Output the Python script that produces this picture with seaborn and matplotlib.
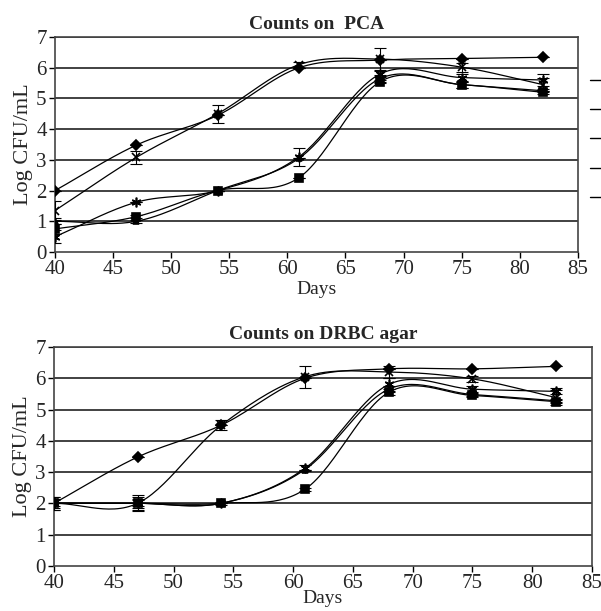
import numpy as np
import pandas as pd
import matplotlib
matplotlib.use("Agg")
import matplotlib.pyplot as plt
from matplotlib.lines import Line2D
import seaborn as sns

days = [40, 47, 54, 61, 68, 75, 82]
series_names = ["A", "B", "C", "D", "E"]
series_markers = ["D", "x", (6, 2, 0), "s", "^"]
series_msize = [5, 6, 7, 6, 5]

pca_A = [2.0, 3.48, 4.45, 6.0, 6.25, 6.3, 6.34]
pca_B = [1.35, 3.08, 4.5, 6.1, 6.28, 6.02, 5.45]
pca_C = [0.5, 1.62, 2.0, 3.1, 5.8, 5.68, 5.6]
pca_D = [0.75, 1.15, 2.0, 2.42, 5.55, 5.45, 5.2]
pca_E = [1.0, 1.0, 2.0, 3.05, 5.65, 5.45, 5.25]

pca_errA = [0.0, 0.0, 0.0, 0.0, 0.0, 0.0, 0.0]
pca_errB = [0.3, 0.2, 0.3, 0.1, 0.35, 0.15, 0.2]
pca_errC = [0.2, 0.0, 0.0, 0.3, 0.1, 0.1, 0.2]
pca_errD = [0.15, 0.05, 0.0, 0.0, 0.05, 0.1, 0.05]
pca_errE = [0.1, 0.05, 0.0, 0.0, 0.1, 0.1, 0.05]

drbc_A = [2.0, 3.48, 4.5, 6.0, 6.3, 6.3, 6.38]
drbc_B = [2.0, 2.0, 4.5, 6.05, 6.2, 5.98, 5.38]
drbc_C = [2.0, 2.0, 2.0, 3.12, 5.8, 5.65, 5.58]
drbc_D = [2.0, 2.0, 2.0, 2.45, 5.55, 5.45, 5.25]
drbc_E = [2.0, 2.0, 2.0, 3.08, 5.65, 5.48, 5.28]

drbc_errA = [0.0, 0.0, 0.0, 0.0, 0.0, 0.0, 0.0]
drbc_errB = [0.2, 0.2, 0.15, 0.35, 0.2, 0.1, 0.25]
drbc_errC = [0.2, 0.25, 0.0, 0.1, 0.2, 0.1, 0.1]
drbc_errD = [0.15, 0.15, 0.05, 0.05, 0.1, 0.05, 0.05]
drbc_errE = [0.1, 0.1, 0.0, 0.0, 0.1, 0.05, 0.05]

titles = ["Counts on  PCA", "Counts on DRBC agar"]
xlabel = "Days"
ylabel = "Log CFU/mL"
xticks = [40, 45, 50, 55, 60, 65, 70, 75, 80, 85]
yticks = [0, 1, 2, 3, 4, 5, 6, 7]

sns.set_style("white")
plt.rcParams["font.family"] = ["Liberation Serif", "DejaVu Serif"]


def smooth(xs, ys, n=30):
    xs = np.asarray(xs, float)
    ys = np.asarray(ys, float)
    px = np.concatenate([[2 * xs[0] - xs[1]], xs, [2 * xs[-1] - xs[-2]]])
    py = np.concatenate([[2 * ys[0] - ys[1]], ys, [2 * ys[-1] - ys[-2]]])
    outx, outy = [], []
    t = np.linspace(0, 1, n)
    for i in range(1, len(px) - 2):
        for arr, out in ((px, outx), (py, outy)):
            p0, p1, p2, p3 = arr[i - 1], arr[i], arr[i + 1], arr[i + 2]
            seg = 0.5 * ((2 * p1) + (-p0 + p2) * t
                         + (2 * p0 - 5 * p1 + 4 * p2 - p3) * t ** 2
                         + (-p0 + 3 * p1 - 3 * p2 + p3) * t ** 3)
            out.extend(seg if i == 1 else seg[1:])
    return np.array(outx), np.array(outy)


fig = plt.figure(figsize=(6.01, 6.11), dpi=100)
ax1 = fig.add_axes([0.0915, 0.5876, 0.870, 0.3518])
ax2 = fig.add_axes([0.0899, 0.0740, 0.895, 0.3581])

panels = [
    (ax1, [pca_A, pca_B, pca_C, pca_D, pca_E],
     [pca_errA, pca_errB, pca_errC, pca_errD, pca_errE]),
    (ax2, [drbc_A, drbc_B, drbc_C, drbc_D, drbc_E],
     [drbc_errA, drbc_errB, drbc_errC, drbc_errD, drbc_errE]),
]

for k, (ax, vals, errs) in enumerate(panels):
    rows = []
    for name, v in zip(series_names, vals):
        sx, sy = smooth(days, v)
        for a, b in zip(sx, sy):
            rows.append((name, a, b))
    df = pd.DataFrame(rows, columns=["series", "day", "value"])
    for gl in yticks[1:]:
        ax.axhline(gl, color="#333333", lw=1.3, zorder=0)
    sns.lineplot(data=df, x="day", y="value", units="series", estimator=None,
                 sort=False, color="black", lw=0.9, ax=ax, legend=False)
    for v, e, m, ms in zip(vals, errs, series_markers, series_msize):
        ax.errorbar(days, v, yerr=e, fmt="none", ecolor="black", elinewidth=0.8,
                    capsize=4, capthick=0.8, zorder=3)
        ax.plot(days, v, linestyle="none", marker=m, markersize=ms,
                color="black", markeredgewidth=1.2, zorder=4)
    ax.set_xlim(40, 85)
    ax.set_ylim(0, 7)
    ax.set_xticks(xticks)
    ax.set_yticks(yticks)
    ax.tick_params(axis="both", which="both", direction="out", length=4,
                   width=1, labelsize=15, color="black", pad=2,
                   bottom=True, left=True)
    for sp in ax.spines.values():
        sp.set_color("#444444")
        sp.set_linewidth(1.2)
        sp.set_visible(True)
    ax.set_title(titles[k], fontsize=14, fontweight="bold", pad=6)
    ax.set_xlabel(xlabel, fontsize=14, labelpad=1 if k == 0 else -2)
    ax.set_ylabel(ylabel, fontsize=16, labelpad=2)

# legend line samples (text cut off at the figure edge)
for yy in [80, 109, 138, 168, 197]:
    fy = 1 - yy / 611
    fig.add_artist(Line2D([590 / 601, 1.0], [fy, fy], color="black", lw=1.0))

fig.savefig("out.png", dpi=100)
